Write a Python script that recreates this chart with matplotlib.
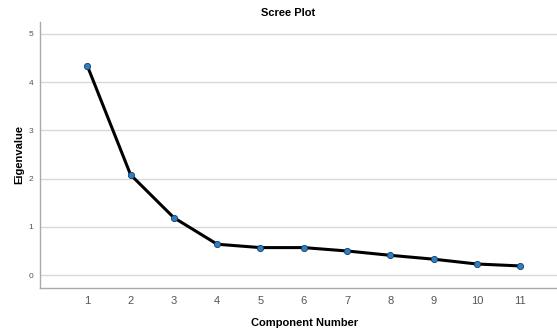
import matplotlib
matplotlib.use("Agg")
import matplotlib.pyplot as plt

plt.rcParams["font.family"] = ["Liberation Sans", "DejaVu Sans"]

components = [1, 2, 3, 4, 5, 6, 7, 8, 9, 10, 11]
eigenvalues = [4.34, 2.08, 1.19, 0.64, 0.57, 0.57, 0.50, 0.41, 0.33, 0.23, 0.19]
y_ticks = [0, 1, 2, 3, 4, 5]

fig = plt.figure(figsize=(5.57, 3.31), dpi=100)
ax = fig.add_axes([0.072, 0.131, 0.928, 0.803])

for y in y_ticks:
	ax.axhline(y, color="#d9d9d9", lw=1.0, zorder=0)

ax.plot(components, eigenvalues, color="black", lw=2.2, zorder=2)
ax.plot(components, eigenvalues, "o", ms=4.5, mfc="#2a7fc6", mec="#1b3d63",
	mew=0.6, zorder=3)

ax.set_xlim(-0.09, 11.85)
ax.set_ylim(-0.26, 5.25)
ax.set_xticks(components)
ax.set_yticks(y_ticks)
ax.tick_params(axis="x", length=0, labelsize=8, labelcolor="#555555", pad=6)
ax.tick_params(axis="y", length=0, labelsize=6, labelcolor="#555555", pad=5)

for side in ["top", "right"]:
	ax.spines[side].set_visible(False)
for side in ["left", "bottom"]:
	ax.spines[side].set_color("#aaaaaa")
	ax.spines[side].set_linewidth(1.0)

ax.set_title("Scree Plot", fontsize=8, fontweight="bold", pad=4, x=0.479)
ax.set_xlabel("Component Number", fontsize=8, fontweight="bold")
ax.xaxis.set_label_coords(0.511, -0.115)
ax.set_ylabel("Eigenvalue", fontsize=8, fontweight="bold", labelpad=3)

fig.savefig("out.png", dpi=100)
